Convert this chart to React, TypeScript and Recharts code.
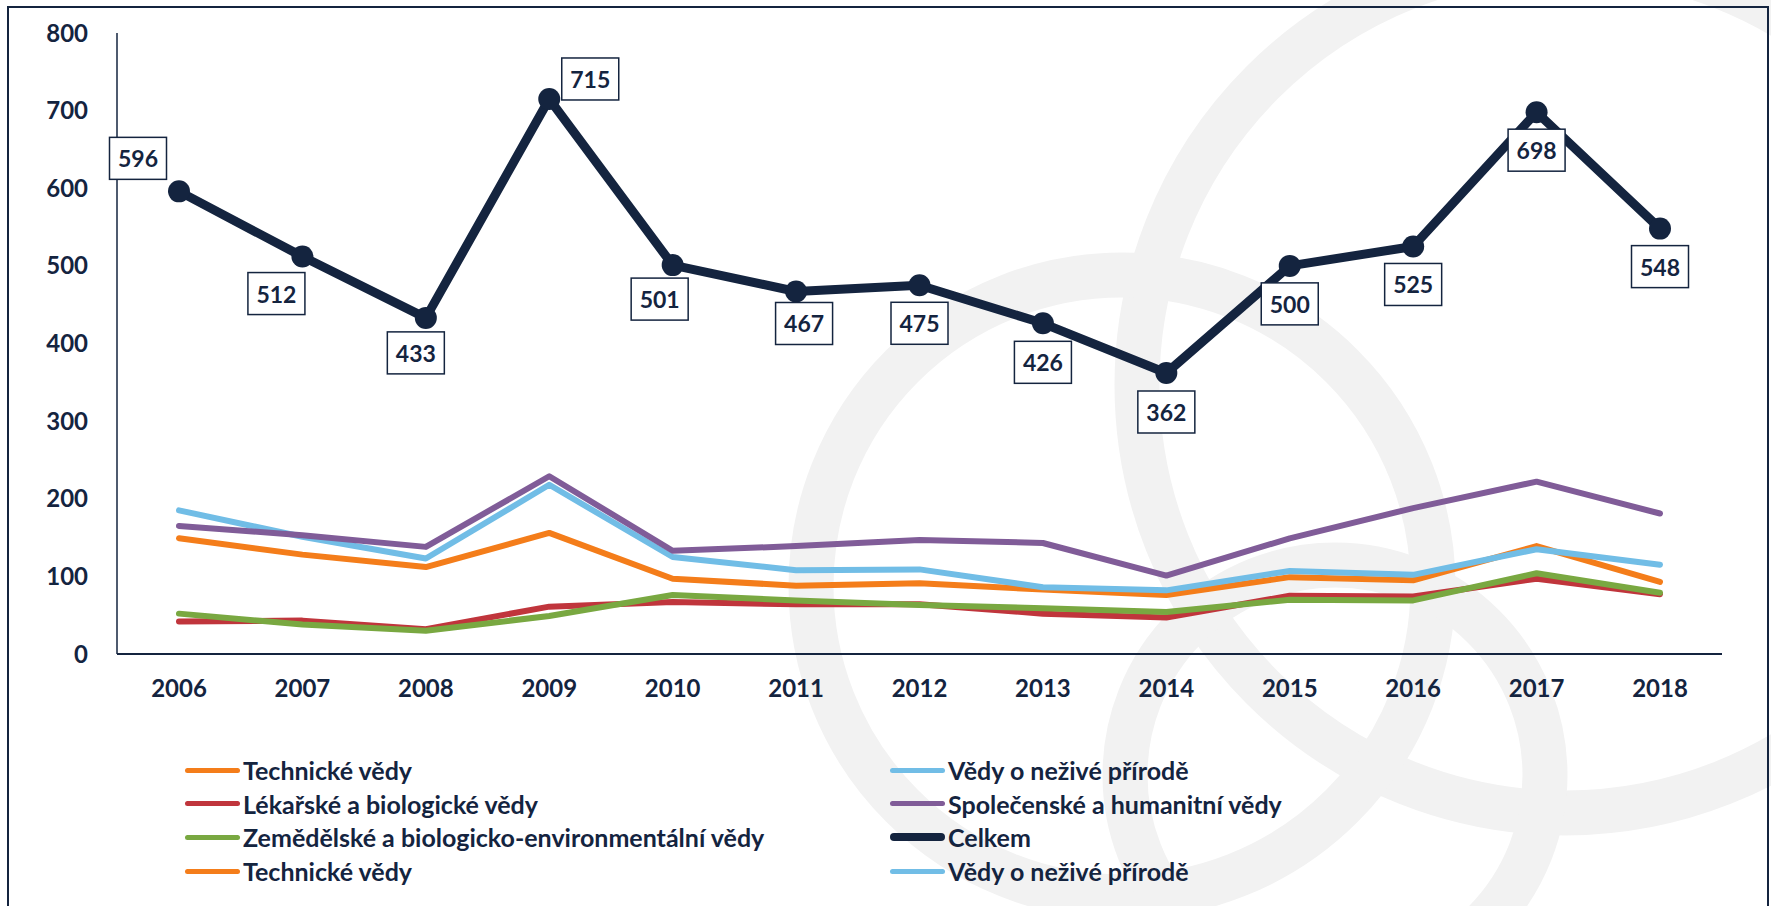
import React from 'react';
import { LineChart, Line, XAxis, YAxis, LabelList } from 'recharts';

const years = ['2006', '2007', '2008', '2009', '2010', '2011', '2012', '2013', '2014', '2015', '2016', '2017', '2018'];
const technicke = [149, 128, 112, 156, 97, 88, 91, 83, 76, 99, 95, 139, 93];
const nezive = [185, 151, 123, 218, 125, 108, 109, 86, 82, 107, 102, 135, 115];
const lekarske = [42, 43, 32, 61, 67, 64, 64, 52, 47, 75, 74, 97, 77];
const spolecenske = [165, 153, 138, 229, 133, 139, 147, 143, 101, 149, 188, 222, 181];
const zemedelske = [52, 38, 30, 49, 76, 69, 63, 59, 54, 70, 69, 104, 79];
const celkem = [596, 512, 433, 715, 501, 467, 475, 426, 362, 500, 525, 698, 548];
const yTicks = [0, 100, 200, 300, 400, 500, 600, 700, 800];

const NAVY = '#14243f';
const FONT = 'Lato, "Open Sans", sans-serif';

const series = [
  { key: 'technicke', name: 'Technické vědy', color: '#f47d1a', width: 6 },
  { key: 'lekarske', name: 'Lékařské a biologické vědy', color: '#c0353c', width: 6 },
  { key: 'zemedelske', name: 'Zemědělské a biologicko-environmentální vědy', color: '#79a841', width: 6 },
  { key: 'nezive', name: 'Vědy o neživé přírodě', color: '#71bde6', width: 6 },
  { key: 'spolecenske', name: 'Společenské a humanitní vědy', color: '#805c98', width: 6 },
];

// legend as Excel drew it (two columns, duplicated last row)
const legendOrder = ['technicke', 'nezive', 'lekarske', 'spolecenske', 'zemedelske', 'celkem', 'technicke', 'nezive'];

// where each "Celkem" label box sits relative to its point
const labelOffsets = [[-41, -33], [-26, 37], [-10, 35], [41, -20], [-13, 34], [8, 32], [0, 38], [0, 39], [0, 39], [0, 38], [0, 38], [0, 38], [0, 38]];

const data = years.map((year, i) => ({
  year,
  technicke: technicke[i],
  nezive: nezive[i],
  lekarske: lekarske[i],
  spolecenske: spolecenske[i],
  zemedelske: zemedelske[i],
  celkem: celkem[i],
}));

const BoxLabel = (props: any) => {
  const { x, y, value, index } = props;
  const [dx, dy] = labelOffsets[index] || [0, 38];
  const cx = x + dx;
  const cy = y + dy;
  return (
    <g>
      <rect x={cx - 28.5} y={cy - 21} width={57} height={42} fill="#ffffff" stroke={NAVY} strokeWidth={1.5} />
      <text x={cx} y={cy} textAnchor="middle" dominantBaseline="central" fontFamily={FONT} fontWeight={700} fontSize={23} fill={NAVY}>
        {value}
      </text>
    </g>
  );
};

const legendInfo = (key: string) => {
  if (key === 'celkem') return { name: 'Celkem', color: NAVY, width: 8 };
  const s = series.find((it) => it.key === key)!;
  return { name: s.name, color: s.color, width: 5 };
};

export default function App() {
  return (
    <div style={{ position: 'absolute', left: 0, top: 0, width: 1771, height: 906, overflow: 'hidden', background: '#ffffff', fontFamily: FONT }}>
      {/* faint logo watermark behind the plot */}
      <svg width={1771} height={906} style={{ position: 'absolute', left: 0, top: 0 }}>
        <circle cx={1565} cy={385} r={428} fill="none" stroke="#f2f2f2" strokeWidth={45} />
        <circle cx={1122} cy={586} r={311} fill="none" stroke="#f2f2f2" strokeWidth={45} />
        <circle cx={1335} cy={775} r={210} fill="none" stroke="#f2f2f2" strokeWidth={45} />
      </svg>
      <div style={{ position: 'absolute', left: 7, top: 6, width: 1758, height: 960, border: `2px solid ${NAVY}` }} />
      <div style={{ position: 'absolute', left: 0, top: 0 }}>
        <LineChart width={1771} height={906} data={data} margin={{ top: 33, right: 49, bottom: 222, left: 0 }}>
          <XAxis
            dataKey="year"
            interval={0}
            padding={{ left: 62, right: 62 }}
            axisLine={{ stroke: NAVY, strokeWidth: 2 }}
            tickLine={false}
            tickMargin={20}
            tick={{ fill: NAVY, fontSize: 24, fontWeight: 700, fontFamily: FONT }}
          />
          <YAxis
            domain={[0, 800]}
            ticks={yTicks}
            width={117}
            axisLine={{ stroke: NAVY, strokeWidth: 1.5 }}
            tickLine={false}
            tickMargin={23}
            tick={{ fill: NAVY, fontSize: 24, fontWeight: 700, fontFamily: FONT }}
          />
          {series.map((s) => (
            <Line
              key={s.key}
              type="linear"
              dataKey={s.key}
              name={s.name}
              stroke={s.color}
              strokeWidth={s.width}
              strokeLinecap="round"
              strokeLinejoin="round"
              dot={false}
              activeDot={false}
              isAnimationActive={false}
            />
          ))}
          <Line
            type="linear"
            dataKey="celkem"
            name="Celkem"
            stroke={NAVY}
            strokeWidth={9}
            strokeLinejoin="round"
            dot={{ r: 11, fill: NAVY, stroke: 'none' }}
            activeDot={false}
            isAnimationActive={false}
          >
            <LabelList dataKey="celkem" content={<BoxLabel />} />
          </Line>
        </LineChart>
      </div>
      {legendOrder.map((key, i) => {
        const info = legendInfo(key);
        const col = i % 2;
        const row = Math.floor(i / 2);
        const left = col === 0 ? 185 : 890;
        const top = 770 + row * 33.7;
        return (
          <div key={i} style={{ position: 'absolute', left, top: top - 15, height: 30, display: 'flex', alignItems: 'center', whiteSpace: 'nowrap' }}>
            <div style={{ width: 55, height: info.width, borderRadius: info.width / 2, background: info.color, marginRight: 3 }} />
            <span style={{ color: NAVY, fontWeight: 700, fontSize: 25, lineHeight: '30px' }}>{info.name}</span>
          </div>
        );
      })}
    </div>
  );
}
